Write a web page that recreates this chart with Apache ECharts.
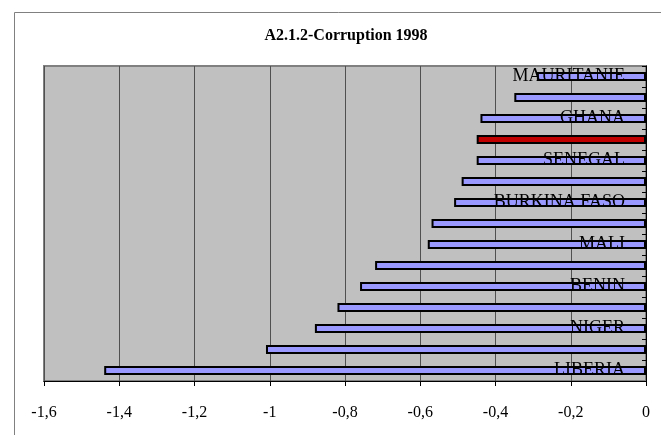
<!DOCTYPE html>
<html>
<head>
<meta charset="utf-8">
<script src="https://cdn.jsdelivr.net/npm/echarts@6/dist/echarts.min.js"></script>
<style>
  html, body { margin: 0; padding: 0; background: #fff; }
  #chart { width: 661px; height: 435px; }
</style>
</head>
<body>
<div id="chart"></div>
<script>
// pays (une étiquette sur deux est affichée dans l'original)
var countries = ['MAURITANIE', '', 'GHANA', '', 'SENEGAL', '', 'BURKINA FASO', '', 'MALI', '', 'BENIN', '', 'NIGER', '', 'LIBERIA'];
var scores = [-0.29, -0.35, -0.44, -0.45, -0.45, -0.49, -0.51, -0.57, -0.58, -0.72, -0.76, -0.82, -0.88, -1.01, -1.44];
var highlightIndex = 3;
var xTicks = { min: -1.6, max: 0, step: 0.2 };

var serif = 'Liberation Serif, Times New Roman, serif';

var myChart = echarts.init(document.getElementById('chart'), null, { renderer: 'canvas' });

var option = {
  animation: false,
  backgroundColor: '#ffffff',
  graphic: [
    {
      type: 'rect',
      left: 12, top: 10,
      shape: { width: 700, height: 500 },
      style: { fill: 'none', stroke: '#808080', lineWidth: 1 },
      silent: true
    },
    {
      type: 'text',
      x: 346, y: 28,
      style: {
        text: 'A2.1.2-Corruption 1998',
        font: 'bold 16px ' + serif,
        fill: '#000',
        textAlign: 'center'
      }
    }
  ],
  grid: {
    left: 44, right: 15, top: 66, bottom: 54,
    show: true,
    backgroundColor: '#c0c0c0',
    borderColor: '#808080',
    borderWidth: 2
  },
  xAxis: {
    type: 'value',
    min: xTicks.min,
    max: xTicks.max,
    interval: xTicks.step,
    axisLine: { show: true, onZero: false, lineStyle: { color: '#000', width: 1 } },
    axisTick: { show: true, length: 5, lineStyle: { color: '#000' } },
    axisLabel: {
      margin: 24,
      color: '#000',
      fontFamily: serif,
      fontSize: 16,
      formatter: function (v) {
        return String(Math.round(v * 10) / 10).replace('.', ',');
      }
    },
    splitLine: { show: true, lineStyle: { color: '#505050', width: 1 } }
  },
  yAxis: {
    type: 'category',
    position: 'right',
    inverse: true,
    data: countries,
    z: 10,
    axisLine: { show: true, onZero: false, lineStyle: { color: '#000', width: 1 } },
    axisTick: { show: true, inside: true, length: 4, interval: 0, lineStyle: { color: '#000' } },
    axisLabel: {
      inside: true,
      interval: 1,
      margin: 21,
      color: '#000',
      fontFamily: serif,
      fontSize: 18
    },
    splitLine: { show: false }
  },
  series: [
    {
      type: 'bar',
      barWidth: 9,
      data: scores.map(function (v, i) {
        return {
          value: v,
          itemStyle: { color: i === highlightIndex ? '#c00000' : '#9999ff' }
        };
      }),
      itemStyle: { borderColor: '#000', borderWidth: 2 }
    }
  ]
};

myChart.setOption(option);
</script>
</body>
</html>
